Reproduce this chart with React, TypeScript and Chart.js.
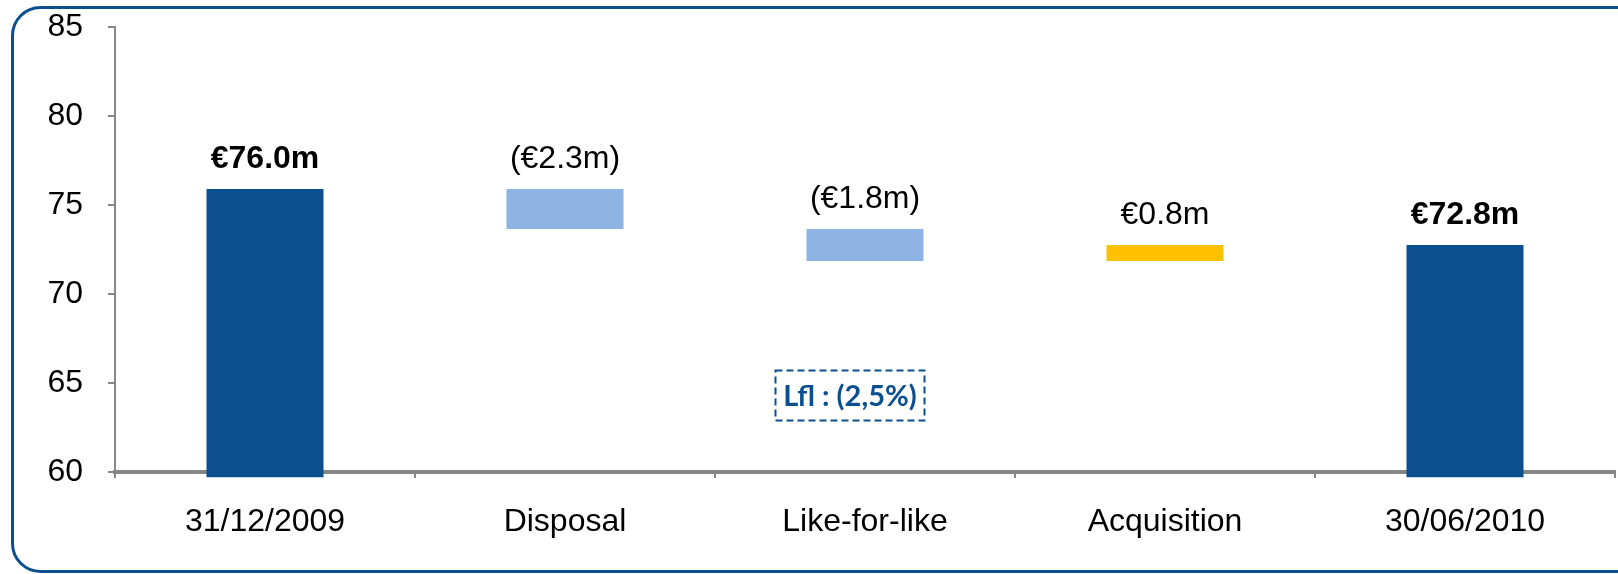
import React, { useEffect, useRef } from "react";
import { Chart, registerables } from "chart.js";

Chart.register(...registerables);

const categories = ["31/12/2009", "Disposal", "Like-for-like", "Acquisition", "30/06/2010"];
const barStart = [59.7, 73.65, 71.85, 71.85, 59.7];
const barEnd = [75.9, 75.9, 73.65, 72.75, 72.75];
const valueLabels = ["€76.0m", "(€2.3m)", "(€1.8m)", "€0.8m", "€72.8m"];
const barKinds = ["total", "decrease", "decrease", "increase", "total"];
const yTicks = [60, 65, 70, 75, 80, 85];
const lflText = "Lfl : (2,5%)";
const lflCategory = 2;
const lflValue = 64.3;

const DARK = "#0B4F8F";
const LIGHT = "#8EB4E3";
const YELLOW = "#FFC000";
const AXIS = "#878787";
const FONT = "'Liberation Sans', Arial, sans-serif";

const kindColor = (k: string) => (k === "total" ? DARK : k === "decrease" ? LIGHT : YELLOW);

const framePlugin = {
  id: "frame",
  beforeDraw(chart: any) {
    const ctx = chart.ctx;
    ctx.save();
    ctx.fillStyle = "#ffffff";
    ctx.fillRect(0, 0, chart.width, chart.height);
    ctx.strokeStyle = DARK;
    ctx.lineWidth = 3;
    ctx.beginPath();
    (ctx as any).roundRect(12.5, 7.5, 1640, 564, 28);
    ctx.stroke();
    ctx.restore();
  },
};

const labelsPlugin = {
  id: "valueLabels",
  afterDatasetsDraw(chart: any) {
    const ctx = chart.ctx;
    const meta = chart.getDatasetMeta(0);
    const yScale = chart.scales.y;
    ctx.save();
    ctx.fillStyle = "#000000";
    ctx.textAlign = "center";
    ctx.textBaseline = "alphabetic";
    meta.data.forEach((bar: any, i: number) => {
      const top = yScale.getPixelForValue(Math.max(barStart[i], barEnd[i]));
      ctx.font = (barKinds[i] === "total" ? "bold " : "") + "32px " + FONT;
      ctx.fillText(valueLabels[i], bar.x, top - 21);
    });
    // Lfl box
    const xScale = chart.scales.x;
    const cx = xScale.getPixelForValue(lflCategory) - 15;
    const cy = yScale.getPixelForValue(lflValue);
    ctx.font = "bold 29px Lato, 'Open Sans', sans-serif";
    const w = ctx.measureText(lflText).width;
    const bw = w + 16;
    const bh = 50;
    ctx.strokeStyle = DARK;
    ctx.lineWidth = 2;
    ctx.setLineDash([7, 4]);
    ctx.strokeRect(Math.round(cx - bw / 2) + 0.5, Math.round(cy - bh / 2) + 0.5, Math.round(bw), bh);
    ctx.setLineDash([]);
    ctx.fillStyle = DARK;
    ctx.textBaseline = "middle";
    ctx.fillText(lflText, cx, cy + 1);
    ctx.restore();
  },
};

export default function App() {
  const ref = useRef<HTMLCanvasElement | null>(null);
  useEffect(() => {
    if (!ref.current) return;
    const chart = new Chart(ref.current, {
      type: "bar",
      data: {
        labels: categories,
        datasets: [
          {
            data: barStart.map((s, i) => [s, barEnd[i]]) as any,
            backgroundColor: barKinds.map(kindColor),
            borderWidth: 0,
            barPercentage: 0.39,
            categoryPercentage: 1,
            clip: false as any,
          },
        ],
      },
      options: {
        animation: false,
        responsive: false,
        maintainAspectRatio: false,
        layout: { padding: { left: 0, top: 27, right: 3, bottom: 0 } },
        plugins: { legend: { display: false }, tooltip: { enabled: false } },
        scales: {
          x: {
            grid: {
              display: true,
              drawOnChartArea: false,
              drawTicks: true,
              tickLength: 6,
              color: AXIS,
              lineWidth: 2,
            },
            border: { display: true, color: AXIS, width: 4 },
            ticks: {
              color: "#000000",
              font: { family: FONT, size: 32 },
              padding: 25,
              maxRotation: 0,
              autoSkip: false,
            },
            afterFit(scale: any) {
              scale.height = 102;
              scale.paddingLeft = 0;
              scale.paddingRight = 0;
            },
          },
          y: {
            min: 60,
            max: 85,
            afterBuildTicks(scale: any) {
              scale.ticks = yTicks.map((v) => ({ value: v }));
            },
            grid: {
              display: true,
              drawOnChartArea: false,
              drawTicks: true,
              tickLength: 7,
              color: AXIS,
              lineWidth: 2,
            },
            border: { display: true, color: AXIS, width: 2 },
            ticks: {
              color: "#000000",
              font: { family: FONT, size: 32 },
              padding: 25,
            },
            afterFit(scale: any) {
              scale.width = 115;
              scale.paddingTop = 0;
              scale.paddingBottom = 0;
            },
          },
        },
      },
      plugins: [framePlugin, labelsPlugin],
    });
    return () => chart.destroy();
  }, []);
  return (
    <div style={{ position: "fixed", left: 0, top: 0, width: 1618, height: 574, background: "#fff" }}>
      <canvas ref={ref} width={1618} height={574} style={{ width: 1618, height: 574, display: "block" }} />
    </div>
  );
}
